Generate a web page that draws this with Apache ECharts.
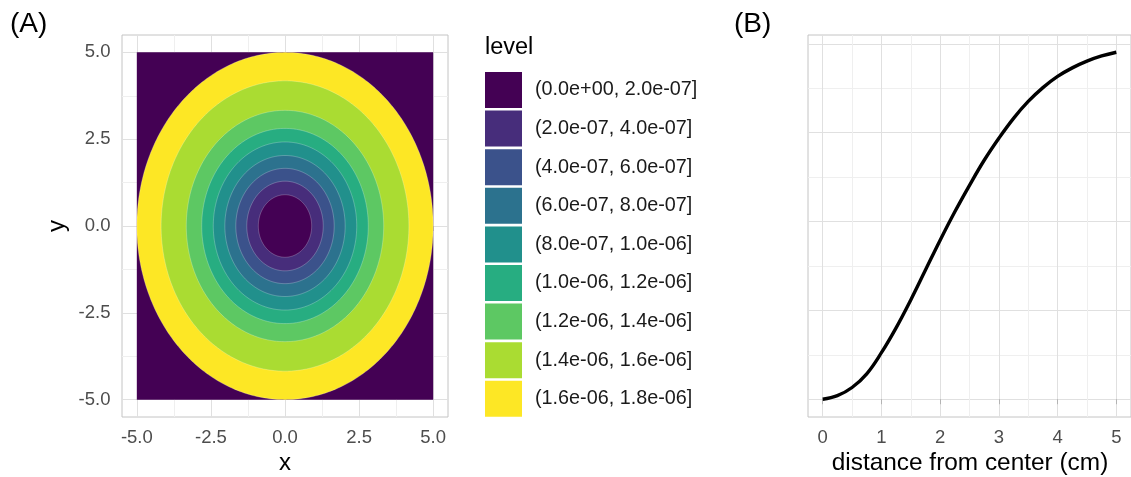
<!DOCTYPE html>
<html>
<head>
<meta charset="utf-8">
<script src="https://cdn.jsdelivr.net/npm/echarts@6/dist/echarts.min.js"></script>
<style>
  html, body { margin: 0; padding: 0; background: #ffffff; }
  #chart { width: 1131px; height: 477px; }
</style>
</head>
<body>
<div id="chart"></div>
<script>
// ---- Panel A: filled contour bands of a radially symmetric field ----
const domain = [-5, 5];                 // x and y extent of the field (cm)
const center = [0, 0];                  // centre of the field
const levelLabels = [
  '(0.0e+00, 2.0e-07]', '(2.0e-07, 4.0e-07]', '(4.0e-07, 6.0e-07]',
  '(6.0e-07, 8.0e-07]', '(8.0e-07, 1.0e-06]', '(1.0e-06, 1.2e-06]',
  '(1.2e-06, 1.4e-06]', '(1.4e-06, 1.6e-06]', '(1.6e-06, 1.8e-06]'
];
const levelColors = [
  '#440154', '#472D7B', '#3B528B', '#2C728E', '#21908C',
  '#27AD81', '#5DC863', '#AADC32', '#FDE725'
];
// outer radius (cm) of the disc whose values stay at or below each band's upper bound
const levelRadii = [0.9, 1.29, 1.66, 2.03, 2.42, 2.81, 3.33, 4.18, 5.0];
const ticksA = [-5, -2.5, 0, 2.5, 5];

// ---- Panel B: radial profile ----
const distance = [0, 0.25, 0.5, 0.75, 1, 1.25, 1.5, 1.75, 2, 2.25, 2.5,
                  2.75, 3, 3.25, 3.5, 3.75, 4, 4.25, 4.5, 4.75, 5];
const profile = [0, 0.020, 0.066, 0.143, 0.262, 0.402, 0.559, 0.727, 0.895,
                 1.055, 1.204, 1.345, 1.469, 1.581, 1.676, 1.754, 1.817,
                 1.865, 1.903, 1.932, 1.953];
const ticksB = [0, 1, 2, 3, 4, 5];

const FONT = '"Liberation Sans", Arial, Helvetica, sans-serif';
const TICK_COLOR = '#b3b3b3';
const LABEL_COLOR = '#4d4d4d';
const MAJOR = '#e0e0e0';
const MINOR = '#efefef';
const NONE = 'rgba(0,0,0,0)';

// grid line colour cycles: one split line every 0.25 (or 0.05) units,
// only some of them are coloured so majors and minors fall on the right values
function cycle(len, majorAt, minorAt) {
  const out = [];
  for (let i = 0; i < len; i++) out.push(i === majorAt ? MAJOR : (i === minorAt ? MINOR : NONE));
  return out;
}

function renderSquare(params, api) {
  const p0 = api.coord([api.value(0), api.value(3)]);
  const p1 = api.coord([api.value(2), api.value(1)]);
  return {
    type: 'rect',
    z2: 1,
    shape: { x: p0[0], y: p0[1], width: p1[0] - p0[0], height: p1[1] - p0[1] },
    style: { fill: api.visual('color') }
  };
}

function renderDisc(params, api) {
  const r = api.value(0);
  const cx = api.value(1);
  const cy = api.value(2);
  const pts = [];
  const n = 360;
  for (let i = 0; i < n; i++) {
    const t = 2 * Math.PI * i / n;
    pts.push(api.coord([cx + r * Math.cos(t), cy + r * Math.sin(t)]));
  }
  return {
    type: 'polygon',
    z2: 100 - Math.round(r * 10),
    shape: { points: pts },
    style: { fill: api.visual('color'), stroke: 'rgba(255,255,255,0.35)', lineWidth: 0.7 }
  };
}

const series = [];
// background square belongs to the lowest band
series.push({
  type: 'custom',
  name: levelLabels[0],
  xAxisIndex: 0, yAxisIndex: 0,
  renderItem: renderSquare,
  itemStyle: { color: levelColors[0] },
  encode: { x: [0, 2], y: [1, 3] },
  data: [[domain[0], domain[0], domain[1], domain[1]]],
  silent: true
});
// discs from the widest band inwards
for (let k = levelRadii.length - 1; k >= 0; k--) {
  series.push({
    type: 'custom',
    name: levelLabels[k],
    xAxisIndex: 0, yAxisIndex: 0,
    renderItem: renderDisc,
    itemStyle: { color: levelColors[k] },
    encode: { x: 1, y: 2 },
    data: [[levelRadii[k], center[0], center[1]]],
    silent: true
  });
}
series.push({
  type: 'line',
  name: 'profile',
  xAxisIndex: 2, yAxisIndex: 2,
  data: distance.map((d, i) => [d, profile[i]]),
  smooth: 0.4,
  showSymbol: false,
  lineStyle: { color: '#000000', width: 3.4 },
  silent: true
});

const labelStyle = { color: LABEL_COLOR, fontSize: 18.5, fontFamily: FONT };
const hidden = { axisLine: { show: false }, axisTick: { show: false }, axisLabel: { show: false } };

const option = {
  animation: false,
  backgroundColor: '#ffffff',
  grid: [
    { left: 122, top: 35, width: 326, height: 382, show: true, backgroundColor: '#ffffff',
      borderColor: '#c4c4c4', borderWidth: 1, containLabel: false },
    { left: 808, top: 35, width: 325, height: 382, show: true, backgroundColor: '#ffffff',
      borderColor: '#c4c4c4', borderWidth: 1, containLabel: false }
  ],
  xAxis: [
    { type: 'value', gridIndex: 0, position: 'bottom', min: -5.5, max: 5.5,
      axisLine: { show: false }, splitLine: { show: false },
      axisTick: { show: true, customValues: ticksA, length: 5, lineStyle: { color: TICK_COLOR } },
      axisLabel: Object.assign({ customValues: ticksA, margin: 11, formatter: v => v.toFixed(1) }, labelStyle) },
    Object.assign({ type: 'value', gridIndex: 0, position: 'top', min: -5.5, max: 5.5, interval: 0.25,
      splitLine: { show: true, lineStyle: { width: 1, color: cycle(10, 2, 7) } } }, hidden),
    { type: 'value', gridIndex: 1, position: 'bottom', min: -0.25, max: 5.25,
      axisLine: { show: false }, splitLine: { show: false },
      axisTick: { show: true, customValues: ticksB, length: 5, lineStyle: { color: TICK_COLOR } },
      axisLabel: Object.assign({ customValues: ticksB, margin: 11, formatter: v => String(v) }, labelStyle) },
    Object.assign({ type: 'value', gridIndex: 1, position: 'top', min: -0.25, max: 5.25, interval: 0.25,
      splitLine: { show: true, lineStyle: { width: 1, color: cycle(4, 1, 3) } } }, hidden)
  ],
  yAxis: [
    { type: 'value', gridIndex: 0, position: 'left', min: -5.5, max: 5.5,
      axisLine: { show: false }, splitLine: { show: false },
      axisTick: { show: true, customValues: ticksA, length: 5, lineStyle: { color: TICK_COLOR } },
      axisLabel: Object.assign({ customValues: ticksA, margin: 11.5, formatter: v => v.toFixed(1) }, labelStyle) },
    Object.assign({ type: 'value', gridIndex: 0, position: 'right', min: -5.5, max: 5.5, interval: 0.25,
      splitLine: { show: true, lineStyle: { width: 1, color: cycle(10, 2, 7) } } }, hidden),
    Object.assign({ type: 'value', gridIndex: 1, position: 'left', min: -0.1, max: 2.05, interval: 0.05,
      splitLine: { show: true, lineStyle: { width: 1, color: cycle(10, 2, 7) } } }, hidden)
  ],
  legend: {
    orient: 'vertical',
    left: 485, top: 72,
    padding: 0,
    itemWidth: 37, itemHeight: 36, itemGap: 2.6,
    icon: 'rect',
    selectedMode: false,
    data: levelLabels,
    itemStyle: { borderWidth: 0 },
    textStyle: { color: '#1a1a1a', fontSize: 19.8, fontFamily: FONT, padding: [0, 0, 0, 8] }
  },
  graphic: [
    { type: 'text', left: 10, top: 10, style: { text: '(A)', fontSize: 28, fontFamily: FONT, fill: '#000' } },
    { type: 'text', left: 734, top: 10, style: { text: '(B)', fontSize: 28, fontFamily: FONT, fill: '#000' } },
    { type: 'text', x: 285, y: 463.5, style: { text: 'x', fontSize: 24, fontFamily: FONT, fill: '#000',
      align: 'center', verticalAlign: 'middle' } },
    { type: 'text', x: 57, y: 226, rotation: Math.PI / 2,
      style: { text: 'y', fontSize: 24, fontFamily: FONT, fill: '#000', align: 'center', verticalAlign: 'middle' } },
    { type: 'text', x: 970, y: 463.5, style: { text: 'distance from center (cm)', fontSize: 24.4,
      fontFamily: FONT, fill: '#000', align: 'center', verticalAlign: 'middle' } },
    { type: 'text', x: 485, y: 48, style: { text: 'level', fontSize: 23.5, fontFamily: FONT, fill: '#000',
      align: 'left', verticalAlign: 'middle' } }
  ],
  series: series
};

const chart = echarts.init(document.getElementById('chart'), null, { renderer: 'canvas' });
chart.setOption(option);
</script>
</body>
</html>
